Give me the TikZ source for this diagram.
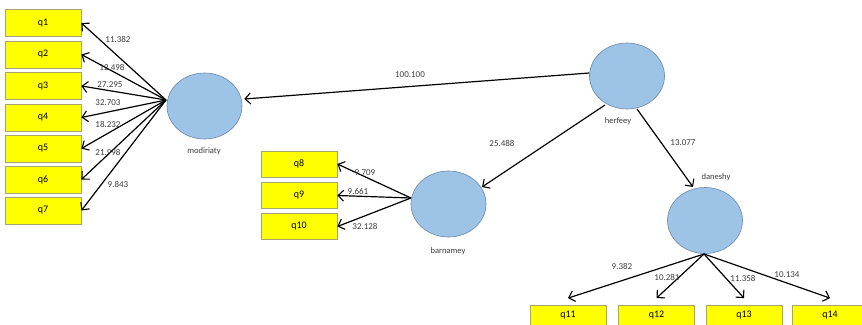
\documentclass[tikz,border=0pt]{standalone}
\usepackage{fontspec}
\setmainfont{Carlito}
\usetikzlibrary{arrows.meta,shapes.geometric}
\definecolor{boxfill}{RGB}{255,255,0}
\definecolor{boxline}{RGB}{165,165,110}
\definecolor{ellfill}{RGB}{157,195,230}
\definecolor{ellline}{RGB}{105,135,170}
\definecolor{lbl}{RGB}{60,60,60}
\begin{document}
\begin{tikzpicture}[x=1pt,y=-1pt,
  qbox/.style={draw=boxline,line width=0.8pt,fill=boxfill,minimum width=76pt,minimum height=27pt,inner sep=0pt,font=\fontsize{10}{11}\selectfont},
  qboxb/.style={qbox,minimum height=20pt},
  lv/.style={ellipse,draw=ellline,line width=0.6pt,fill=ellfill,minimum width=75pt,minimum height=66pt,inner sep=0pt},
  nm/.style={font=\fontsize{8.5}{9}\selectfont,text=lbl,inner sep=0pt},
  wt/.style={font=\fontsize{9}{10}\selectfont,text=lbl,inner sep=0pt},
  arr/.style={-{Straight Barb[length=5.5pt,width=11pt,line width=1.1pt]},line width=1.2pt,black}]
\useasboundingbox (0,0) rectangle (862,324);
\fill[white] (0,0) rectangle (862,324);
% latent variables
\node[lv] (mod) at (204.5,106) {};
\node[lv] (her) at (627,76) {};
\node[lv] (bar) at (448.5,204) {};
\node[lv] (dan) at (705,220.5) {};
\node[nm] (modl) at (204,151) {modiriaty};
\node[nm] (herl) at (618,121) {herfeey};
\node[nm] (barl) at (448,251) {barnamey};
\node[nm] (danl) at (716,177) {daneshy};
% indicator boxes
\node[qbox] (q1) at (43,23) {q1};
\node[qbox] (q2) at (43,54.5) {q2};
\node[qbox] (q3) at (43,86) {q3};
\node[qbox] (q4) at (43,117.5) {q4};
\node[qbox] (q5) at (43,148.5) {q5};
\node[qbox] (q6) at (43,179.5) {q6};
\node[qbox] (q7) at (43,210.5) {q7};
\node[qbox,minimum height=26pt] (q8) at (299,164) {q8};
\node[qbox,minimum height=26pt] (q9) at (299,195.5) {q9};
\node[qbox,minimum height=26pt] (q10) at (299,226.5) {q10};
\node[qboxb] (q11) at (568,315.5) {\raisebox{3pt}{q11}};
\node[qboxb] (q12) at (656.5,315.5) {\raisebox{3pt}{q12}};
\node[qboxb] (q13) at (744,315.5) {\raisebox{3pt}{q13}};
\node[qboxb] (q14) at (830,315.5) {\raisebox{3pt}{q14}};
% source points
\coordinate (m0) at (166,100);
\coordinate (b0) at (411,198);
\coordinate (d0) at (704,254);
% structural arrows
\draw[arr] ([yshift=3pt]her.west) -- ([yshift=7pt,xshift=2pt]mod.east);
\draw[arr] (her) ++(-22,29) coordinate (h1) (h1) -- (482,187) coordinate (bt);
\draw[arr] (her) ++(10,33) coordinate (h2) (h2) -- (693,187) coordinate (dt);
% measurement arrows
\draw[arr] (m0) -- (q1.east);
\draw[arr] (m0) -- (q2.east);
\draw[arr] (m0) -- (q3.east);
\draw[arr] (m0) -- (q4.east);
\draw[arr] (m0) -- (q5.east);
\draw[arr] (m0) -- (q6.east);
\draw[arr] (m0) -- (q7.east);
\draw[arr] (b0) -- (q8.east);
\draw[arr] (b0) -- (q9.east);
\draw[arr] (b0) -- (q10.east);
\draw[arr] (d0) -- ([yshift=7pt]q11.north);
\draw[arr] (d0) -- ([yshift=7pt]q12.north);
\draw[arr] (d0) -- ([yshift=7pt]q13.north);
\draw[arr] (d0) -- ([yshift=7pt]q14.north);
% weights
\node[wt] (w1) at (118,39) {11.382};
\node[wt] (w2) at (112,67) {12.498};
\node[wt] (w3) at (110,85) {27.295};
\node[wt] (w4) at (108,103) {32.703};
\node[wt] (w5) at (108,124) {18.232};
\node[wt] (w6) at (108,152) {21.998};
\node[wt] (w7) at (118,184) {9.843};
\node[wt] (w8) at (365,173) {9.709};
\node[wt] (w9) at (358,191) {9.661};
\node[wt] (w10) at (365,226) {32.128};
\node[wt] (w11) at (622,266) {9.382};
\node[wt] (w12) at (667,277) {10.281};
\node[wt] (w13) at (743,278) {11.358};
\node[wt] (w14) at (787,275) {10.134};
\node[wt] (w15) at (410,75) {100.100};
\node[wt] (w16) at (502,143) {25.488};
\node[wt] (w17) at (683,143) {13.077};
\end{tikzpicture}
\end{document}
